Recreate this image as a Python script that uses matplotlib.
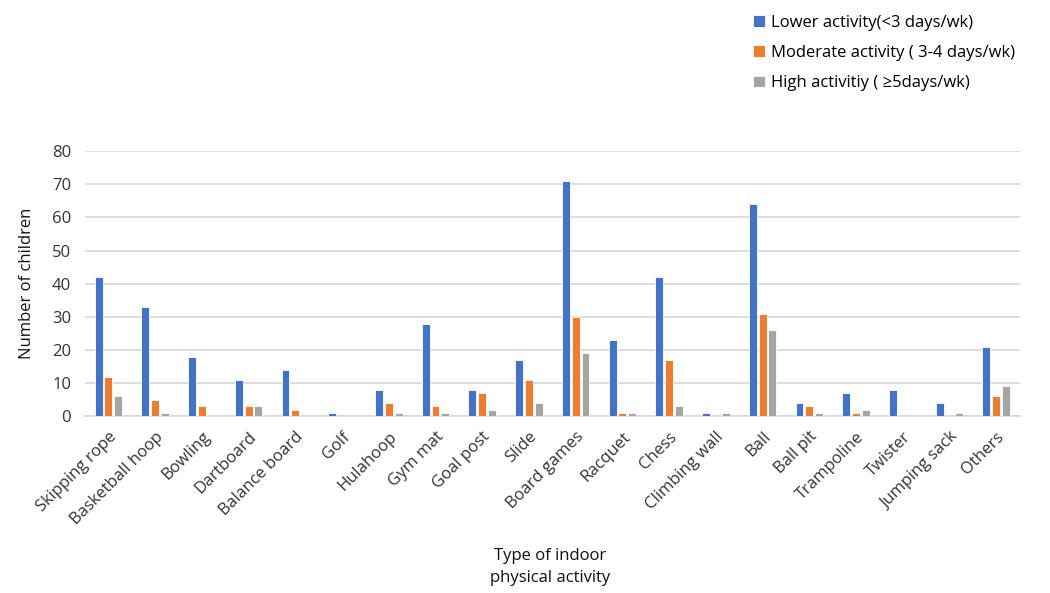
import numpy as np
import matplotlib.pyplot as plt

plt.rcParams['font.family'] = ['Open Sans', 'DejaVu Sans']

categories = ['Skipping rope', 'Basketball hoop', 'Bowling', 'Dartboard', 'Balance board',
              'Golf', 'Hulahoop', 'Gym mat', 'Goal post', 'Slide', 'Board games', 'Racquet',
              'Chess', 'Climbing wall', 'Ball', 'Ball pit', 'Trampoline', 'Twister',
              'Jumping sack', 'Others']
lower = [42, 33, 18, 11, 14, 1, 8, 28, 8, 17, 71, 23, 42, 1, 64, 4, 7, 8, 4, 21]
moderate = [12, 5, 3, 3, 2, 0, 4, 3, 7, 11, 30, 1, 17, 0, 31, 3, 1, 0, 0, 6]
high = [6, 1, 0, 3, 0, 0, 1, 1, 2, 4, 19, 1, 3, 1, 26, 1, 2, 0, 1, 9]

series = [
    ('Lower activity(<3 days/wk)', lower, '#4472C4'),
    ('Moderate activity ( 3-4 days/wk)', moderate, '#ED7D31'),
    ('High activitiy ( ≥5days/wk)', high, '#A5A5A5'),
]

fig = plt.figure(figsize=(10.5, 5.93), dpi=100)
ax = fig.add_axes([0.081, 0.298, 0.890, 0.447])

x = np.arange(len(categories))
w = 0.17
step = 0.21
for i, (name, vals, col) in enumerate(series):
    ax.bar(x + (i - 1) * step, vals, width=w, color=col, edgecolor='white',
           linewidth=0.6, label=name, zorder=3)

ax.set_xlim(-0.5, len(categories) - 0.5)
ax.set_ylim(0, 80)
ax.set_yticks(range(0, 81, 10))
ax.yaxis.grid(True, color='#d9d9d9', linewidth=1.3, zorder=0)
for s in ['top', 'right', 'left']:
    ax.spines[s].set_visible(False)
ax.spines['bottom'].set_color('#d9d9d9')
ax.spines['bottom'].set_linewidth(1.3)
ax.tick_params(length=0, labelsize=12, colors='#333333')
ax.tick_params(axis='y', pad=10)
ax.tick_params(axis='x', pad=9)
ax.set_xticks(x)
ax.set_xticklabels(categories, rotation=45, ha='right', rotation_mode='anchor')

ax.set_ylabel('Number of children', fontsize=12, color='#111111', labelpad=12)
fig.text(0.524, 0.012, 'Type of indoor\nphysical activity', ha='center', va='bottom',
         fontsize=12, color='#111111', linespacing=1.5)

leg = fig.legend(loc='upper left', bbox_to_anchor=(0.703, 1.0), frameon=False,
                 fontsize=12, handlelength=0.7, handleheight=0.7, handletextpad=0.4,
                 labelspacing=0.85)

fig.savefig('out.png', dpi=100)
